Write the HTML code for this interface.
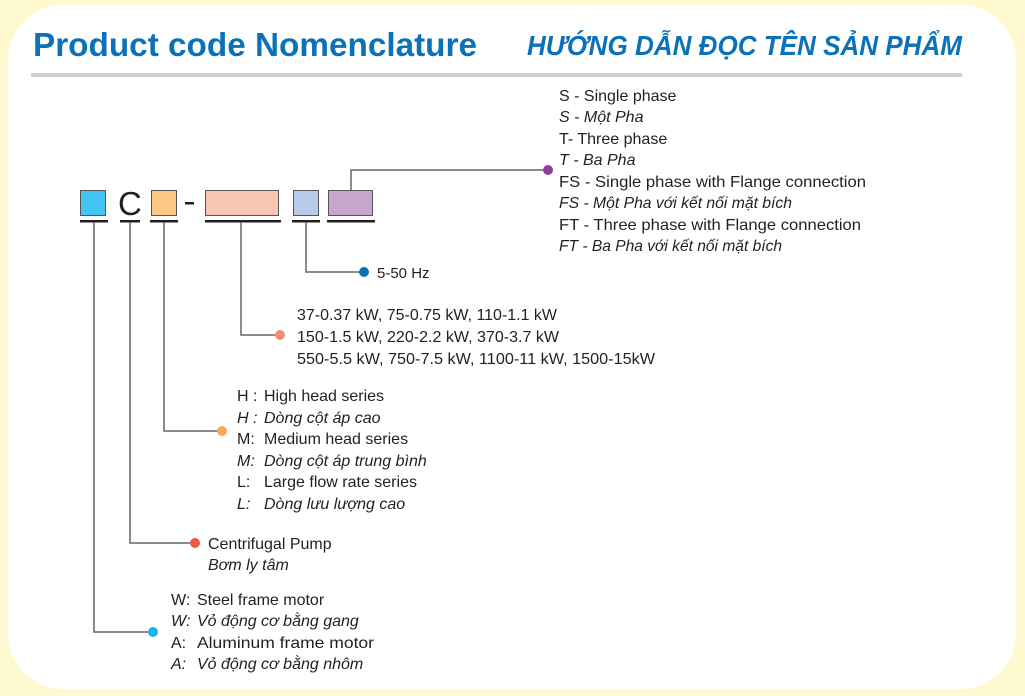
<!DOCTYPE html>
<html><head><meta charset="utf-8"><style>
html,body{margin:0;padding:0;background:#fff9d0;}
svg{display:block}
text{font-family:"Liberation Sans",sans-serif;fill:#231f20;font-size:16px}
.i{font-style:italic}
</style></head><body>
<svg width="1025" height="696" viewBox="0 0 1025 696" xmlns="http://www.w3.org/2000/svg">
<rect x="0" y="0" width="1025" height="696" fill="#fff9d0"/>
<rect x="8" y="5" width="1008" height="684" rx="55" fill="#ffffff"/>
<text x="33" y="56" style="font-size:33px;font-weight:bold;fill:#0b72b9" textLength="444" lengthAdjust="spacingAndGlyphs">Product code Nomenclature</text>
<text x="527" y="55" style="font-size:28px;font-weight:bold;font-style:italic;fill:#0b72b9" textLength="435" lengthAdjust="spacingAndGlyphs">HƯỚNG DẪN  ĐỌC TÊN SẢN PHẨM</text>
<rect x="31" y="73" width="931" height="4" fill="#cfcfcf"/>

<rect x="80.5" y="190.5" width="25" height="25" fill="#43c6f3" stroke="#555" stroke-width="1"/>
<text x="118" y="215" style="font-size:33px;font-weight:300">C</text>
<rect x="151.5" y="190.5" width="25" height="25" fill="#fdc785" stroke="#555" stroke-width="1"/>
<rect x="185" y="202" width="9" height="2.5" fill="#231f20"/>
<rect x="205.5" y="190.5" width="73" height="25" fill="#f9c6b3" stroke="#555" stroke-width="1"/>
<rect x="293.5" y="190.5" width="25" height="25" fill="#b7cbea" stroke="#555" stroke-width="1"/>
<rect x="328.5" y="190.5" width="44" height="25" fill="#c6a6cc" stroke="#555" stroke-width="1"/>
<g fill="#231f20">
<rect x="80" y="220" width="28" height="2.5"/>
<rect x="120" y="220" width="20" height="2.5"/>
<rect x="150" y="220" width="28" height="2.5"/>
<rect x="205" y="220" width="76" height="2.5"/>
<rect x="292" y="220" width="28" height="2.5"/>
<rect x="327" y="220" width="48" height="2.5"/>
</g>

<g fill="none" stroke="#666" stroke-width="1.5">
<polyline points="94,222 94,632 153,632"/>
<polyline points="130,222 130,543 195,543"/>
<polyline points="164,222 164,431 222,431"/>
<polyline points="241,222 241,335 280,335"/>
<polyline points="306,222 306,272 364,272"/>
<polyline points="351,190 351,170 548,170"/>
</g>
<circle cx="548" cy="170" r="5" fill="#8e3f9a"/>
<circle cx="364" cy="272" r="5" fill="#0b72b9"/>
<circle cx="280" cy="335" r="5" fill="#f4906f"/>
<circle cx="222" cy="431" r="5" fill="#f7a955"/>
<circle cx="195" cy="543" r="5" fill="#ec5b40"/>
<circle cx="153" cy="632" r="5" fill="#17b4ee"/>

<text x="559" y="101">S - Single phase</text>
<text x="559" y="122" class="i">S - Một Pha</text>
<text x="559" y="144">T- Three phase</text>
<text x="559" y="165" class="i">T - Ba Pha</text>
<text x="559" y="187" textLength="307" lengthAdjust="spacingAndGlyphs">FS - Single phase with Flange connection</text>
<text x="559" y="208" class="i" textLength="233" lengthAdjust="spacingAndGlyphs">FS - Một Pha với kết nối mặt bích</text>
<text x="559" y="230" textLength="302" lengthAdjust="spacingAndGlyphs">FT - Three phase with Flange connection</text>
<text x="559" y="251" class="i" textLength="223" lengthAdjust="spacingAndGlyphs">FT - Ba Pha với kết nối mặt bích</text>

<text x="377" y="278" style="font-size:15px">5-50 Hz</text>

<text x="297" y="320" textLength="260" lengthAdjust="spacingAndGlyphs">37-0.37 kW, 75-0.75 kW, 110-1.1 kW</text>
<text x="297" y="342" textLength="262" lengthAdjust="spacingAndGlyphs">150-1.5 kW, 220-2.2 kW, 370-3.7 kW</text>
<text x="297" y="364" textLength="358" lengthAdjust="spacingAndGlyphs">550-5.5 kW, 750-7.5 kW, 1100-11 kW, 1500-15kW</text>

<text x="237" y="401">H :</text><text x="264" y="401">High head series</text>
<text x="237" y="423" class="i">H :</text><text x="264" y="423" class="i">Dòng cột áp cao</text>
<text x="237" y="444">M:</text><text x="264" y="444">Medium head series</text>
<text x="237" y="466" class="i">M:</text><text x="264" y="466" class="i">Dòng cột áp trung bình</text>
<text x="237" y="487">L:</text><text x="264" y="487">Large flow rate series</text>
<text x="237" y="509" class="i">L:</text><text x="264" y="509" class="i">Dòng lưu lượng cao</text>

<text x="208" y="549">Centrifugal Pump</text>
<text x="208" y="570" class="i">Bơm ly tâm</text>

<text x="171" y="605">W:</text><text x="197" y="605">Steel frame motor</text>
<text x="171" y="626" class="i">W:</text><text x="197" y="626" class="i">Vỏ động cơ bằng gang</text>
<text x="171" y="648">A:</text><text x="197" y="648" textLength="177" lengthAdjust="spacingAndGlyphs">Aluminum frame motor</text>
<text x="171" y="669" class="i">A:</text><text x="197" y="669" class="i">Vỏ động cơ bằng nhôm</text>
</svg>
</body></html>
